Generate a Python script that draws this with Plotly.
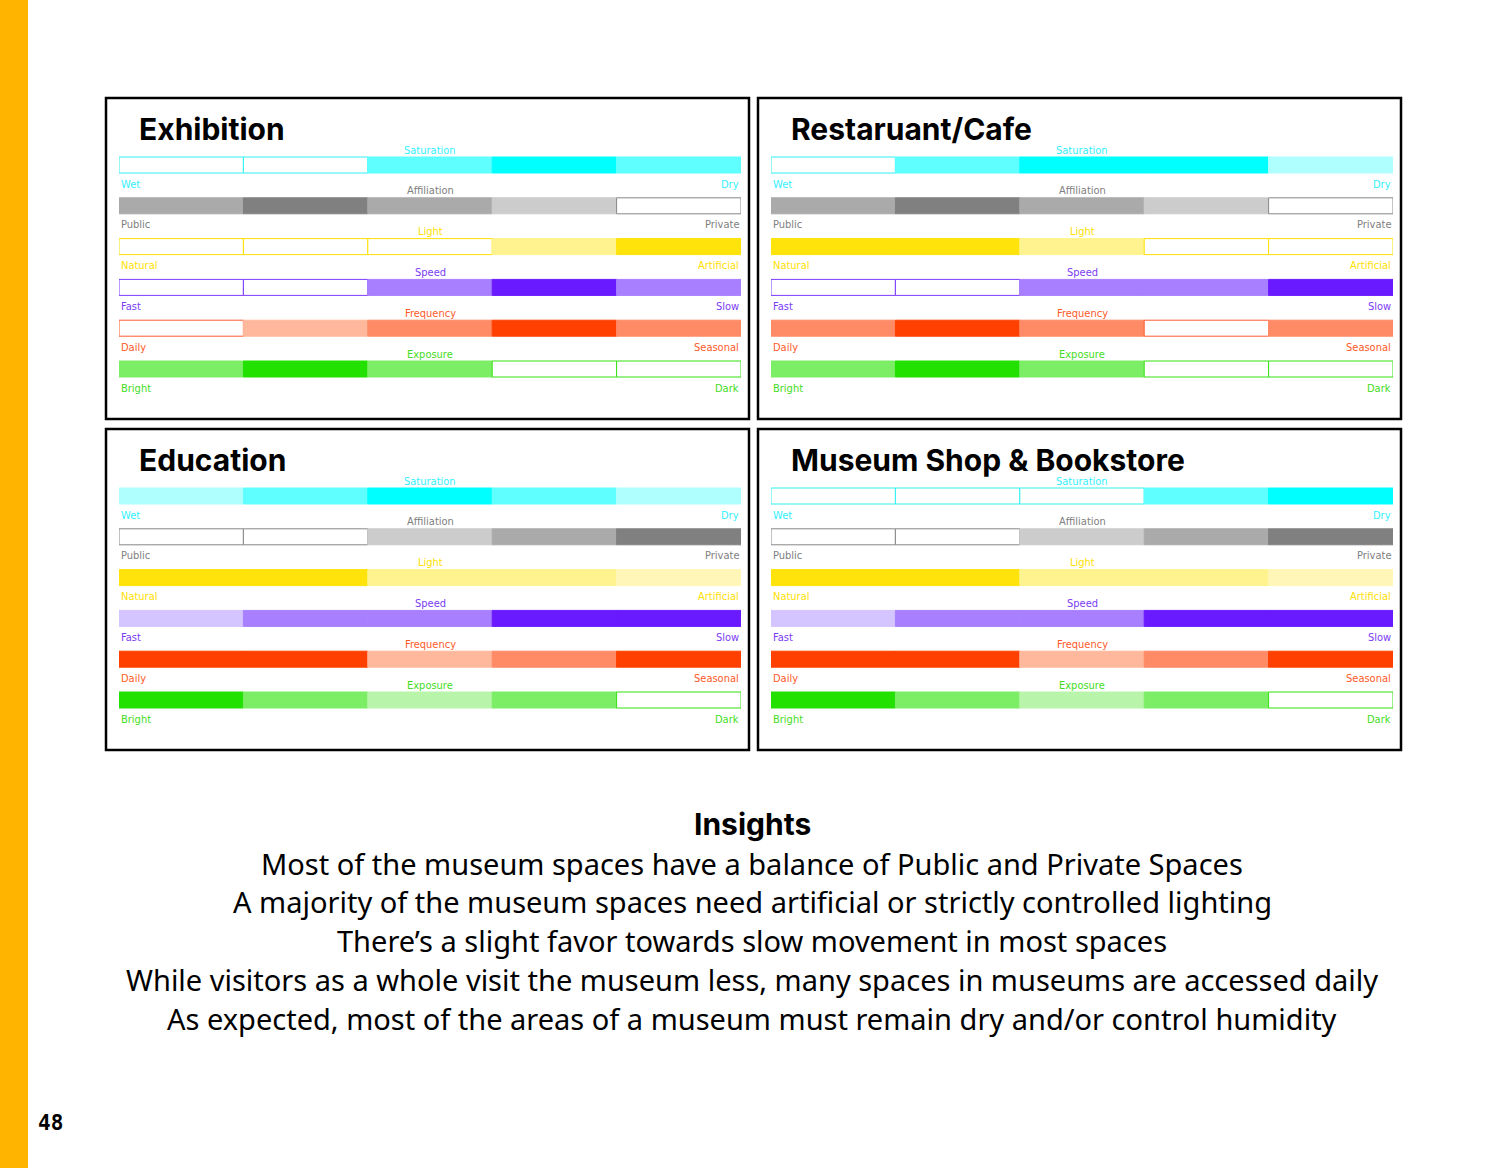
import plotly.graph_objects as go

W, H = 1500, 1168

panels = ["Exhibition", "Restaruant/Cafe", "Education", "Museum Shop & Bookstore"]
rows = ["Saturation", "Affiliation", "Light", "Speed", "Frequency", "Exposure"]
left_labels = ["Wet", "Public", "Natural", "Fast", "Daily", "Bright"]
right_labels = ["Dry", "Private", "Artificial", "Slow", "Seasonal", "Dark"]

# intensity level per segment (0 = empty outline, 1 light, 2 medium, 3 strong)
exhibition = [[0, 0, 2, 3, 2], [2, 3, 2, 1, 0], [0, 0, 0, 2, 3],
              [0, 0, 2, 3, 2], [0, 1, 2, 3, 2], [2, 3, 2, 0, 0]]
restaurant = [[0, 2, 3, 3, 1], [2, 3, 2, 1, 0], [3, 3, 2, 0, 0],
              [0, 0, 2, 2, 3], [2, 3, 2, 0, 2], [2, 3, 2, 0, 0]]
education = [[1, 2, 3, 2, 1], [0, 0, 1, 2, 3], [3, 3, 2, 2, 1],
             [1, 2, 2, 3, 3], [3, 3, 1, 2, 3], [3, 2, 1, 2, 0]]
museum_shop = [[0, 0, 0, 2, 3], [0, 0, 1, 2, 3], [3, 3, 2, 2, 1],
               [1, 2, 2, 3, 3], [3, 3, 1, 2, 3], [3, 2, 1, 2, 0]]
panel_data = [exhibition, restaurant, education, museum_shop]

insights_title = "Insights"
insights = [
    "Most of the museum spaces have a balance of Public and Private Spaces",
    "A majority of the museum spaces need artificial or strictly controlled lighting",
    "There\u2019s a slight favor towards slow movement in most spaces",
    "While visitors as a whole visit the museum less, many spaces in museums are accessed daily",
    "As expected, most of the areas of a museum must remain dry and/or control humidity",
]
page_number = "48"

palettes = [
    ["#FFFFFF", "#B0FFFF", "#60FFFF", "#00FFFF"],
    ["#FFFFFF", "#CCCCCC", "#AAAAAA", "#808080"],
    ["#FFFFFF", "#FFF6B8", "#FFF38F", "#FFE30A"],
    ["#FFFFFF", "#D4C4FF", "#A880FF", "#6A1AFF"],
    ["#FFFFFF", "#FFB89C", "#FF8A66", "#FF4000"],
    ["#FFFFFF", "#B8F5AA", "#7CEE66", "#22E000"],
]
outlines = ["#30F0F0", "#888888", "#FFE000", "#7A3CFF", "#FF5A30", "#33E010"]
label_colors = ["#33F0FF", "#808080", "#FFE000", "#7B3CF5", "#FF5A28", "#44DD22"]

# panel boxes in pixels (x0, y0, x1, y1)
boxes = [(106, 98, 749, 419), (758, 98, 1401, 419),
         (106, 429, 749, 750), (758, 429, 1401, 750)]

LBL_FONT = "Liberation Sans Narrow, DejaVu Sans Condensed, Arial Narrow, sans-serif"
TITLE_FONT = "Inter, Roboto, Liberation Sans, sans-serif"

fig = go.Figure()
layout_axes = {}
annotations = []
shapes = []

ROW_STEP = 40.8
row_px = 16
for p, (name, data, box) in enumerate(zip(panels, panel_data, boxes)):
    bx0, by0, bx1, by1 = box
    xs, xe = bx0 + 13, bx1 - 8
    r_top = -67 / ROW_STEP
    r_bot = (by1 - by0 - 67) / ROW_STEP
    ax = "" if p == 0 else str(p + 1)
    layout_axes["xaxis" + ax] = dict(domain=[xs / W, xe / W], range=[0, 5], visible=False,
                                     anchor="y" + ax, fixedrange=True)
    layout_axes["yaxis" + ax] = dict(domain=[1 - by1 / H, 1 - by0 / H], range=[r_bot, r_top],
                                     visible=False, anchor="x" + ax, fixedrange=True)
    for r, levels in enumerate(data):
        fills = [palettes[r][lv] for lv in levels]
        lines = [outlines[r] if lv == 0 else palettes[r][lv] for lv in levels]
        fig.add_trace(go.Bar(
            orientation="h", y=[r] * 5, x=[1] * 5, base=list(range(5)),
            width=row_px / ROW_STEP,
            marker=dict(color=fills, line=dict(color=lines, width=1)),
            xaxis="x" + ax, yaxis="y" + ax, showlegend=False, hoverinfo="skip",
        ))
        annotations.append(dict(x=2.5, y=r - 15 / ROW_STEP, xref="x" + ax, yref="y" + ax,
                                text=rows[r], showarrow=False, xanchor="center", yanchor="middle",
                                font=dict(family=LBL_FONT, size=11, color=label_colors[r])))
        annotations.append(dict(x=0, y=r + 19 / ROW_STEP, xref="x" + ax, yref="y" + ax,
                                text=left_labels[r], showarrow=False, xanchor="left", yanchor="middle",
                                font=dict(family=LBL_FONT, size=11, color=label_colors[r])))
        annotations.append(dict(x=5, y=r + 19 / ROW_STEP, xref="x" + ax, yref="y" + ax,
                                text=right_labels[r], showarrow=False, xanchor="right", yanchor="middle",
                                font=dict(family=LBL_FONT, size=11, color=label_colors[r])))
    annotations.append(dict(x=(bx0 + 31) / W, y=1 - (by0 + 31) / H, xref="paper", yref="paper",
                            text="<b>%s</b>" % name, showarrow=False, xanchor="left", yanchor="middle",
                            font=dict(family=TITLE_FONT, size=30, color="#000000", weight=900)))
    shapes.append(dict(type="rect", xref="paper", yref="paper",
                       x0=bx0 / W, x1=bx1 / W, y0=1 - by1 / H, y1=1 - by0 / H,
                       line=dict(color="#000000", width=2.5), fillcolor="rgba(0,0,0,0)"))

shapes.append(dict(type="rect", xref="paper", yref="paper", x0=0, x1=28 / W, y0=0, y1=1,
                   line=dict(width=0), fillcolor="#FFB400", layer="below"))

annotations.append(dict(x=752 / W, y=1 - 824 / H, xref="paper", yref="paper",
                        text="<b>%s</b>" % insights_title, showarrow=False,
                        xanchor="center", yanchor="middle",
                        font=dict(family=TITLE_FONT, size=30, color="#000000", weight=900)))
for i, line in enumerate(insights):
    annotations.append(dict(x=752 / W, y=1 - (863 + 38.8 * i) / H, xref="paper", yref="paper",
                            text=line, showarrow=False, xanchor="center", yanchor="middle",
                            font=dict(family="Noto Sans, Open Sans, sans-serif", size=29, color="#000000")))

annotations.append(dict(x=36 / W, y=1 - 1123 / H, xref="paper", yref="paper",
                        text="<b>%s</b>" % page_number, showarrow=False, xanchor="left", yanchor="middle",
                        font=dict(family="DejaVu Sans Mono, monospace", size=21, color="#000000")))

fig.update_layout(
    width=W, height=H, margin=dict(l=0, r=0, t=0, b=0),
    paper_bgcolor="#FFFFFF", plot_bgcolor="rgba(0,0,0,0)",
    barmode="overlay", annotations=annotations, shapes=shapes, **layout_axes,
)

fig.write_html("out.html", config={"displayModeBar": False},
               post_script="document.body.style.margin='0';document.body.style.padding='0';")
